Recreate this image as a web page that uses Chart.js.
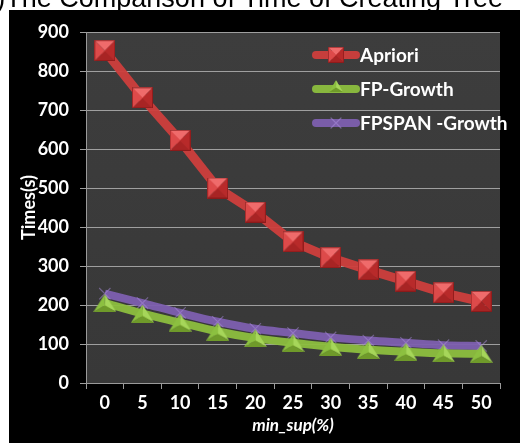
<!DOCTYPE html>
<html>
<head>
<meta charset="utf-8">
<script src="https://cdn.jsdelivr.net/npm/chart.js@4.4.1/dist/chart.umd.min.js"></script>
<style>
  html, body { margin: 0; padding: 0; background: #ffffff; }
  #wrap { width: 520px; height: 443px; position: relative; }
</style>
</head>
<body>
<div id="wrap"><canvas id="c" width="520" height="443"></canvas></div>
<script>
// Minimum support levels (%) on the x axis
const categories = ['0', '5', '10', '15', '20', '25', '30', '35', '40', '45', '50'];
// Tree creation time (s) for each algorithm
const apriori = [852, 731, 622, 500, 438, 362, 321, 290, 261, 231, 209];
const fpGrowth = [205, 178, 155, 132, 115, 103, 93, 85, 80, 76, 75];
const fpspanGrowth = [229, 205, 180, 157, 139, 128, 117, 109, 103, 97, 95];
const seriesNames = ['Apriori', 'FP-Growth', 'FPSPAN -Growth'];
const titleText = '(a)The Comparison of Time of Creating Tree';

const labelFont = 'Lato, "Open Sans", sans-serif';

// Bevelled square marker
function makeSquare(size) {
  const c = document.createElement('canvas');
  c.width = size; c.height = size;
  const g = c.getContext('2d');
  const m = size / 2;
  const faces = [
    [[0, 0], [size, 0], '#ef6b6b'],
    [[size, 0], [size, size], '#b82a2a'],
    [[size, size], [0, size], '#a82424'],
    [[0, size], [0, 0], '#dd4a4a']
  ];
  faces.forEach(f => {
    g.beginPath();
    g.moveTo(f[0][0], f[0][1]);
    g.lineTo(f[1][0], f[1][1]);
    g.lineTo(m, m);
    g.closePath();
    g.fillStyle = f[2];
    g.fill();
  });
  g.strokeStyle = 'rgba(120,20,20,0.6)';
  g.lineWidth = 1;
  g.strokeRect(0.5, 0.5, size - 1, size - 1);
  return c;
}

// Bevelled triangle marker
function makeTriangle(w, h) {
  const c = document.createElement('canvas');
  c.width = w; c.height = h;
  const g = c.getContext('2d');
  const cx = w / 2, cy = h * 0.62;
  const tri = [[w / 2, 0], [w, h], [0, h]];
  const shades = ['#a6d65a', '#6f9a2a', '#8cc040'];
  for (let i = 0; i < 3; i++) {
    const a = tri[i], b = tri[(i + 1) % 3];
    g.beginPath();
    g.moveTo(a[0], a[1]);
    g.lineTo(b[0], b[1]);
    g.lineTo(cx, cy);
    g.closePath();
    g.fillStyle = shades[i];
    g.fill();
  }
  return c;
}

const squareImg = makeSquare(21);
const triangleImg = makeTriangle(23, 18);

const bgPlugin = {
  id: 'bg',
  beforeDraw(chart) {
    const { ctx, chartArea: a } = chart;
    ctx.save();
    ctx.fillStyle = '#ffffff';
    ctx.fillRect(0, 0, chart.width, chart.height);
    ctx.fillStyle = '#000000';
    ctx.fillRect(9, 10, chart.width - 9, chart.height - 10);
    const grad = ctx.createLinearGradient(0, a.top, 0, a.bottom);
    grad.addColorStop(0, '#3d3d3d');
    grad.addColorStop(1, '#383838');
    ctx.fillStyle = grad;
    ctx.fillRect(a.left, a.top, a.right - a.left, a.bottom - a.top);
    ctx.fillStyle = '#000000';
    ctx.font = '27px "Liberation Sans", Arial, sans-serif';
    ctx.textAlign = 'right';
    ctx.textBaseline = 'alphabetic';
    ctx.fillText(titleText, 503, 7);
    ctx.restore();
  }
};

// Legend drawn inside the plot area, upper right
const insideLegend = {
  id: 'insideLegend',
  afterDatasetsDraw(chart) {
    const { ctx } = chart;
    const x0 = 313, x1 = 359, ys = [55, 89, 123];
    ctx.save();
    chart.data.datasets.forEach((ds, i) => {
      const y = ys[i];
      ctx.strokeStyle = ds.borderColor;
      ctx.lineWidth = 8;
      ctx.lineCap = 'round';
      ctx.beginPath();
      ctx.moveTo(x0 + 3, y);
      ctx.lineTo(x1 - 3, y);
      ctx.stroke();
      const mx = (x0 + x1) / 2;
      if (i === 0) ctx.drawImage(squareImg, mx - 8, y - 8, 16, 16);
      if (i === 1) ctx.drawImage(triangleImg, mx - 7, y - 9, 14, 12);
      if (i === 2) {
        ctx.strokeStyle = 'rgba(170,140,220,0.55)';
        ctx.lineWidth = 1.2;
        ctx.beginPath();
        ctx.moveTo(mx - 5, y - 5); ctx.lineTo(mx + 5, y + 5);
        ctx.moveTo(mx + 5, y - 5); ctx.lineTo(mx - 5, y + 5);
        ctx.stroke();
      }
      ctx.fillStyle = '#ffffff';
      ctx.font = 'bold 19px ' + labelFont;
      ctx.textAlign = 'left';
      ctx.textBaseline = 'middle';
      ctx.fillText(ds.label, 360, y + 1);
    });
    ctx.restore();
  }
};

new Chart(document.getElementById('c'), {
  type: 'line',
  data: {
    labels: categories,
    datasets: [
      {
        label: seriesNames[0],
        data: apriori,
        borderColor: 'rgba(205,62,60,0.95)',
        backgroundColor: '#d84444',
        borderWidth: 9,
        tension: 0,
        pointStyle: squareImg,
        pointRadius: 11
      },
      {
        label: seriesNames[1],
        data: fpGrowth,
        borderColor: 'rgba(140,190,62,0.95)',
        backgroundColor: '#8cc040',
        borderWidth: 8,
        tension: 0.3,
        pointStyle: triangleImg,
        pointRadius: 11
      },
      {
        label: seriesNames[2],
        data: fpspanGrowth,
        borderColor: 'rgba(125,95,175,0.95)',
        backgroundColor: 'rgba(170,140,220,0.55)',
        borderWidth: 8,
        tension: 0.4,
        pointStyle: 'crossRot',
        pointRadius: 8,
        pointBorderColor: 'rgba(170,140,220,0.5)',
        pointBorderWidth: 1.2
      }
    ]
  },
  options: {
    responsive: false,
    animation: false,
    devicePixelRatio: 1,
    layout: { padding: { left: 9, top: 32, right: 3, bottom: 0 } },
    plugins: {
      legend: { display: false },
      tooltip: { enabled: false },
      title: { display: false }
    },
    scales: {
      x: {
        offset: true,
        grid: {
          display: true,
          drawOnChartArea: false,
          offset: true,
          color: '#9a9a9a',
          tickLength: 6
        },
        border: { color: '#9a9a9a', width: 1 },
        ticks: {
          color: '#ffffff',
          font: { family: labelFont, size: 18, weight: 'bold' },
          padding: 3,
          maxRotation: 0
        },
        title: {
          display: true,
          text: 'min_sup(%)',
          color: '#ffffff',
          font: { family: labelFont, size: 17, weight: 'bold', style: 'italic' },
          padding: { top: 0, bottom: 7 }
        },
        afterFit(scale) { scale.height = 60; }
      },
      y: {
        min: 0,
        max: 900,
        ticks: {
          stepSize: 100,
          color: '#ffffff',
          font: { family: labelFont, size: 18, weight: 'bold' },
          padding: 11
        },
        grid: {
          color: '#9f9f9f',
          lineWidth: 1,
          tickLength: 6
        },
        border: { color: '#9a9a9a', width: 1 },
        title: {
          display: true,
          text: 'Times(s)',
          color: '#ffffff',
          font: { family: labelFont, size: 18, weight: 'bold' },
          padding: { top: 9, bottom: 0 }
        },
        afterFit(scale) { scale.width = 77; }
      }
    }
  },
  plugins: [bgPlugin, insideLegend]
});
</script>
</body>
</html>
